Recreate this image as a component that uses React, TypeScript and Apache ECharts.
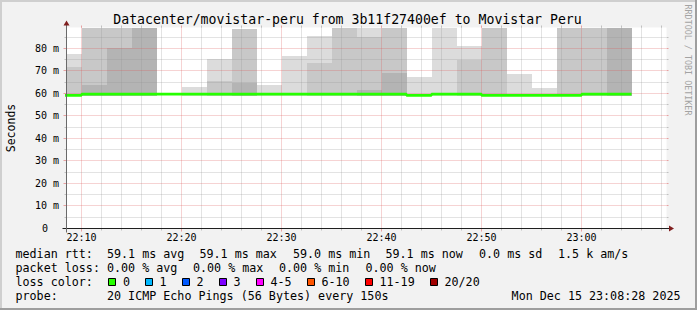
import React, { useEffect, useRef } from 'react';
import * as echarts from 'echarts';

const MONO = '"DejaVu Sans Mono", monospace';

// x values are minutes after 22:00
const X_MIN = 8.5; // 22:08:30
const X_MAX = 68.5; // 23:08:30
const Y_MAX = 89.33; // ms
const STEP = 2.5; // 150 s per sample

// end time of each 150 s sample (minutes after 22:00)
const stepEnds = [10, 12.5, 15, 17.5, 20, 22.5, 25, 27.5, 30, 32.5, 35, 37.5, 40, 42.5, 45, 47.5, 50, 52.5, 55, 57.5, 60, 62.5, 65];
// median rtt (ms)
const medianRtt = [59.2, 59.7, 59.7, 59.7, 59.7, 59.7, 59.7, 59.7, 59.7, 59.7, 59.7, 59.7, 59.7, 59.7, 59.2, 59.7, 59.7, 59.2, 59.2, 59.2, 59.2, 59.7, 59.7];
// smoke bands (ms): lowest ping, top of dark band, top of mid band, top of light band (100 = above the chart top)
const smokeLow = [59, 59, 59, 59, 59, 59, 59, 59, 59, 59, 59, 59, 59, 59, 59, 59, 59, 59, 59, 59, 59, 59, 59];
const smokeDarkTop = [59, 63.7, 80.3, 100, 59, 59, 59, 64.7, 59, 59, 59, 59, 61.5, 69.2, 59, 59, 59, 59, 59, 59, 59, 59, 100];
const smokeMidTop = [71.6, 100, 100, 100, 59, 59, 65.5, 88.5, 59, 59, 73.6, 100, 85.2, 100, 59, 59, 75.1, 100, 59, 59, 100, 100, 100];
const smokeLightTop = [77.5, 100, 100, 100, 59, 62.9, 75.2, 88.5, 63.7, 76.6, 85.5, 100, 100, 100, 67.4, 100, 81, 100, 68.6, 62.4, 100, 100, 100];

const xTickValues = [10, 20, 30, 40, 50, 60];
const xTickLabels = ['22:10', '22:20', '22:30', '22:40', '22:50', '23:00'];
const xMinorValues = [12, 14, 16, 18, 22, 24, 26, 28, 32, 34, 36, 38, 42, 44, 46, 48, 52, 54, 56, 58, 62, 64, 66, 68];
const yTickValues = [0, 10, 20, 30, 40, 50, 60, 70, 80];
const yTickLabels = ['0', '10 m', '20 m', '30 m', '40 m', '50 m', '60 m', '70 m', '80 m'];
const yMajorGrid = [10, 20, 30, 40, 50, 60, 70, 80];
const yMinorValues = [5, 15, 25, 35, 45, 55, 65, 75, 85];

const lossLabels = ['0', '1', '2', '3', '4-5', '6-10', '11-19', '20/20'];
const lossColors = ['#26ff00', '#00b8ff', '#0059ff', '#7e00ff', '#ff00ff', '#ff5500', '#ff0000', '#a10000'];

const TITLE = 'Datacenter/movistar-peru from 3b11f27400ef to Movistar Peru';
const rttStats = ['59.1 ms avg', '59.1 ms max', '59.0 ms min', '59.1 ms now', '0.0 ms sd', '1.5 k am/s'];
const lossStats = ['0.00 % avg', '0.00 % max', '0.00 % min', '0.00 % now'];
const PROBE = '20 ICMP Echo Pings (56 Bytes) every 150s';
const DATE = 'Mon Dec 15 23:08:28 2025';

const SMOKE_DARK = '#b4b4b4';
const SMOKE_MID = '#c8c8c8';
const SMOKE_LIGHT = '#dcdcdc';
const GRID_MINOR = 'rgba(143,143,143,0.5)';
const GRID_MAJOR = 'rgba(222,79,79,0.5)';

const G_LEFT = 66.5;
const G_TOP = 27.5;
const G_W = 600;
const G_H = 201;
const G_BOTTOM = G_TOP + G_H;
const G_RIGHT = G_LEFT + G_W;

function txt(text: string, x: number, y: number, size: number, extra: any = {}) {
  return {
    type: 'text',
    x,
    y,
    z: 50,
    style: {
      text,
      fill: '#000',
      fontSize: size,
      fontFamily: MONO,
      align: 'left',
      textAlign: 'left',
      verticalAlign: 'middle',
      textVerticalAlign: 'middle',
      ...extra,
    },
  };
}

export default function App() {
  const ref = useRef<HTMLDivElement>(null);

  useEffect(() => {
    if (!ref.current) return;
    const chart = echarts.init(ref.current, null, { renderer: 'svg', width: 697, height: 310 });

    const smokeData = stepEnds.map((e, i) => [e - STEP, e, smokeLow[i], smokeDarkTop[i], smokeMidTop[i], smokeLightTop[i]]);
    const last = stepEnds.length - 1;
    const lineData = stepEnds.map((e, i) => [e - STEP, medianRtt[i]]);
    lineData.push([stepEnds[last], medianRtt[last]]);

    const gridData = [
      ...xTickValues.map((v) => [0, v, 1]),
      ...xMinorValues.map((v) => [0, v, 0]),
      ...yMajorGrid.map((v) => [1, v, 1]),
      ...yMinorValues.map((v) => [1, v, 0]),
    ];

    const row1 = 254.3;
    const row2 = 268.3;
    const row3 = 282.3;
    const row4 = 296;
    const rttX = [107, 199.5, 293, 385.5, 479, 558];
    const lossX = [107, 193, 279, 365.5];
    const boxX = [108.5, 145.5, 182.5, 219.5, 256.5, 307.5, 365.5, 430.5];
    const boxLabelX = [123, 159.5, 196.5, 233.5, 270.5, 321.5, 379.5, 444.5];
    const LS = 11.7;

    const graphic: any[] = [
      // 3D frame
      { type: 'rect', z: 60, shape: { x: 0, y: 0, width: 697, height: 2 }, style: { fill: '#cfcfcf' } },
      { type: 'rect', z: 60, shape: { x: 0, y: 0, width: 2, height: 310 }, style: { fill: '#cfcfcf' } },
      { type: 'rect', z: 61, shape: { x: 0, y: 308, width: 697, height: 2 }, style: { fill: '#9e9e9e' } },
      { type: 'rect', z: 61, shape: { x: 695, y: 0, width: 2, height: 310 }, style: { fill: '#9e9e9e' } },
      // axes
      { type: 'line', z: 40, shape: { x1: G_LEFT - 4, y1: G_BOTTOM, x2: G_RIGHT + 4, y2: G_BOTTOM }, style: { stroke: '#1f1f1f', lineWidth: 1 } },
      { type: 'line', z: 40, shape: { x1: G_LEFT, y1: G_BOTTOM + 4, x2: G_LEFT, y2: G_TOP - 4 }, style: { stroke: '#6a6a6a', lineWidth: 1 } },
      { type: 'polygon', z: 41, shape: { points: [[G_RIGHT + 2.5, G_BOTTOM - 3], [G_RIGHT + 7.5, G_BOTTOM], [G_RIGHT + 2.5, G_BOTTOM + 3]] }, style: { fill: '#801f1f' } },
      { type: 'polygon', z: 41, shape: { points: [[G_LEFT - 3, G_TOP - 2], [G_LEFT, G_TOP - 7], [G_LEFT + 3, G_TOP - 2]] }, style: { fill: '#801f1f' } },
      // title
      txt(TITLE, 347.5, 19.3, 13.2, { align: 'center', textAlign: 'center' }),
      // watermark
      {
        type: 'text',
        x: 688,
        y: 60,
        rotation: -Math.PI / 2,
        z: 50,
        style: {
          text: 'RRDTOOL / TOBI OETIKER',
          fill: '#a3a3a3',
          fontSize: 8.4,
          fontFamily: MONO,
          align: 'center',
          textAlign: 'center',
          verticalAlign: 'middle',
          textVerticalAlign: 'middle',
        },
      },
      // legend
      txt('median rtt:', 15.5, row1, LS),
      ...rttStats.map((s, i) => txt(s, rttX[i], row1, LS)),
      txt('packet loss:', 15.5, row2, LS),
      ...lossStats.map((s, i) => txt(s, lossX[i], row2, LS)),
      txt('loss color:', 15.5, row3, LS),
      ...lossLabels.map((l, i) => txt(l, boxLabelX[i], row3, LS)),
      ...lossColors.map((c, i) => ({
        type: 'rect',
        z: 50,
        shape: { x: boxX[i], y: 278.5, width: 7, height: 7 },
        style: { fill: c, stroke: '#000', lineWidth: 1 },
      })),
      txt('probe:', 15.5, row4, LS),
      txt(PROBE, 107, row4, LS),
      txt(DATE, 680.5, row4, LS, { align: 'right', textAlign: 'right' }),
    ];

    const option: any = {
      animation: false,
      backgroundColor: '#f2f2f2',
      textStyle: { fontFamily: MONO },
      grid: {
        left: G_LEFT,
        top: G_TOP,
        width: G_W,
        height: G_H,
        show: true,
        backgroundColor: '#ffffff',
        borderWidth: 0,
        containLabel: false,
        outerBoundsMode: 'none',
      },
      xAxis: {
        type: 'value',
        min: X_MIN,
        max: X_MAX,
        axisLine: { show: false },
        axisTick: { show: false },
        splitLine: { show: false },
        axisLabel: {
          customValues: xTickValues,
          formatter: (v: number) => {
            const i = xTickValues.findIndex((t) => Math.abs(t - v) < 1e-6);
            return i >= 0 ? xTickLabels[i] : '';
          },
          fontFamily: MONO,
          fontSize: 10,
          color: '#000',
          margin: 4,
        },
      },
      yAxis: {
        type: 'value',
        min: 0,
        max: Y_MAX,
        interval: 10,
        name: 'Seconds',
        nameLocation: 'middle',
        nameGap: 50,
        nameRotate: 90,
        nameTextStyle: { fontFamily: MONO, fontSize: 11.5, color: '#000' },
        axisLine: { show: false },
        axisTick: { show: false },
        splitLine: { show: false },
        axisLabel: {
          formatter: (v: number) => {
            const i = yTickValues.findIndex((t) => Math.abs(t - v) < 1e-6);
            if (i < 0) return '';
            return yTickValues[i] === 0 ? '{z|' + yTickLabels[i] + '}' : yTickLabels[i];
          },
          fontFamily: MONO,
          fontSize: 10,
          color: '#000',
          margin: 7.5,
          rich: { z: { fontFamily: MONO, fontSize: 10, color: '#000', padding: [0, 11, 0, 0] } },
        },
      },
      series: [
        {
          type: 'custom',
          name: 'smoke',
          z: 1,
          silent: true,
          data: smokeData,
          renderItem: (params: any, api: any) => {
            const s = Math.max(api.value(0), X_MIN);
            const e = Math.min(api.value(1), X_MAX);
            const lo = api.value(2);
            const d = api.value(3);
            const m = api.value(4);
            const l = api.value(5);
            const x0 = Math.round(api.coord([s, 0])[0]);
            const x1 = Math.round(api.coord([e, 0])[0]);
            const yOf = (v: number) => Math.round(api.coord([s, Math.min(v, Y_MAX)])[1]);
            const bands = [
              [lo, d, SMOKE_DARK],
              [Math.max(lo, d), m, SMOKE_MID],
              [Math.max(lo, d, m), l, SMOKE_LIGHT],
            ];
            const children = bands
              .filter((b: any) => b[1] > b[0])
              .map((b: any) => {
                const yt = yOf(b[1]);
                const yb = yOf(b[0]);
                return {
                  type: 'rect',
                  shape: { x: x0, y: yt, width: x1 - x0, height: yb - yt },
                  style: { fill: b[2] },
                };
              });
            return { type: 'group', children };
          },
        },
        {
          type: 'custom',
          name: 'grid',
          z: 3,
          silent: true,
          data: gridData,
          renderItem: (params: any, api: any) => {
            const orient = api.value(0);
            const v = api.value(1);
            const major = api.value(2);
            const stroke = major ? GRID_MAJOR : GRID_MINOR;
            const p0 = api.coord([X_MIN, 0]);
            const p1 = api.coord([X_MAX, Y_MAX]);
            const left = p0[0];
            const bottom = p0[1];
            const right = p1[0];
            const top = p1[1];
            const ext = major ? 3 : 2;
            if (orient === 0) {
              const x = Math.floor(api.coord([v, 0])[0] + 0.01) + 0.5;
              return {
                type: 'group',
                children: [
                  { type: 'line', shape: { x1: x, y1: bottom, x2: x, y2: top }, style: { stroke, lineWidth: 1, lineDash: [1, 1] } },
                  { type: 'line', shape: { x1: x, y1: bottom, x2: x, y2: bottom + ext }, style: { stroke, lineWidth: 1 } },
                  { type: 'line', shape: { x1: x, y1: top - 2, x2: x, y2: top }, style: { stroke, lineWidth: 1 } },
                ],
              };
            }
            const y = Math.ceil(api.coord([X_MIN, v])[1] - 0.01) - 0.5;
            return {
              type: 'group',
              children: [
                { type: 'line', shape: { x1: left, y1: y, x2: right, y2: y }, style: { stroke, lineWidth: 1, lineDash: [1, 1] } },
                { type: 'line', shape: { x1: left - ext, y1: y, x2: left, y2: y }, style: { stroke, lineWidth: 1 } },
                { type: 'line', shape: { x1: right, y1: y, x2: right + 2, y2: y }, style: { stroke, lineWidth: 1 } },
              ],
            };
          },
        },
        {
          type: 'line',
          name: 'median rtt',
          z: 5,
          step: 'end',
          showSymbol: false,
          symbol: 'none',
          silent: true,
          clip: true,
          data: lineData,
          lineStyle: { color: lossColors[0], width: 2.8 },
        },
      ],
      graphic,
    };

    chart.setOption(option);
    return () => chart.dispose();
  }, []);

  return (
    <div
      ref={ref}
      style={{ position: 'absolute', left: 0, top: 0, width: 697, height: 310 }}
    />
  );
}
